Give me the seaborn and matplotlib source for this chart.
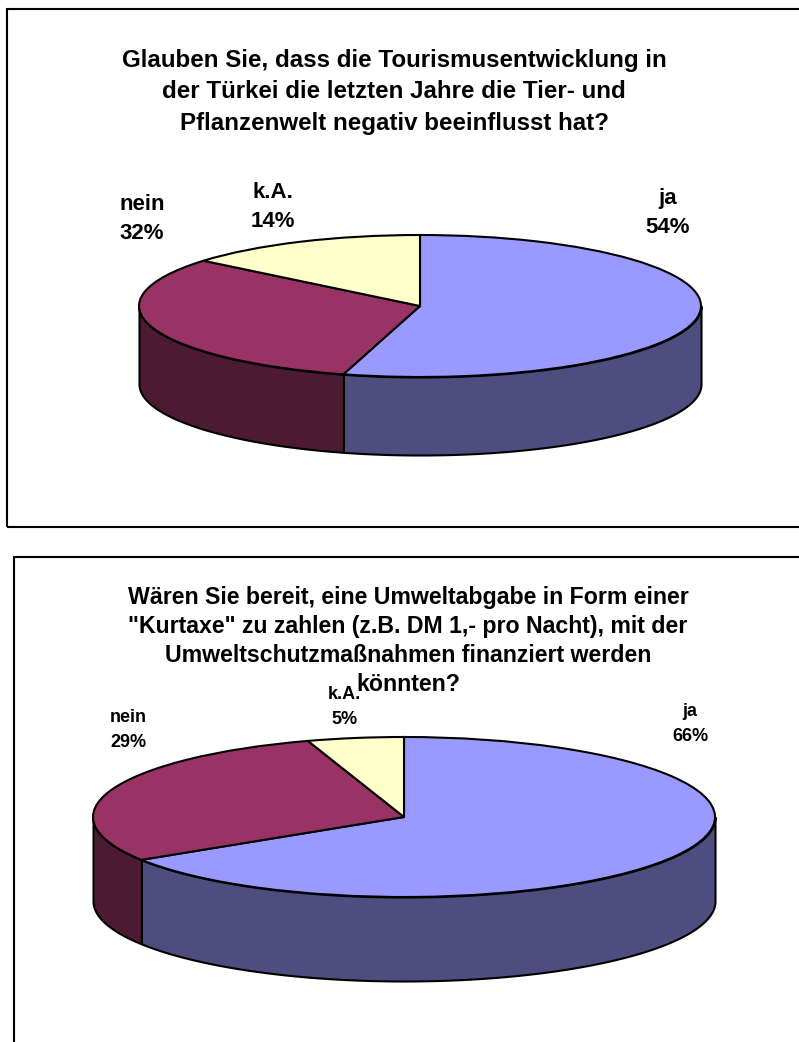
import numpy as np
import seaborn as sns
import matplotlib
matplotlib.use('Agg')
import matplotlib.pyplot as plt
from matplotlib.patches import Rectangle

# values
categories = ['ja', 'nein', 'k.A.']
values_top = [54.4, 31.6, 14.0]
values_bottom = [66.0, 29.0, 5.0]
title_top = 'Glauben Sie, dass die Tourismusentwicklung in\nder Türkei die letzten Jahre die Tier- und\nPflanzenwelt negativ beeinflusst hat?'
title_bottom = 'Wären Sie bereit, eine Umweltabgabe in Form einer\n"Kurtaxe" zu zahlen (z.B. DM 1,- pro Nacht), mit der\nUmweltschutzmaßnahmen finanziert werden\nkönnten?'

W, H = 799, 1042
sns.set_theme(style='white')
plt.rcParams['font.family'] = ['Liberation Sans', 'DejaVu Sans']

palette = sns.color_palette(['#9999FF', '#993366', '#FFFFCC'])
side_palette = sns.color_palette(['#4D4D80', '#4D1A33', '#808066'])

fig = plt.figure(figsize=(W / 100, H / 100), dpi=100, facecolor='white')


def box(x0, y0, x1, y1):
    fig.add_artist(Rectangle((x0 / W, 1 - y1 / H), (x1 - x0) / W, (y1 - y0) / H,
                             transform=fig.transFigure, fill=False, edgecolor='black', lw=1.5))


def pie3d(values, cx, cy, rx, ry, depth):
    # axes spans exactly the ellipse plus wall, data radius is 1
    ax = fig.add_axes([(cx - rx) / W, 1 - (cy + ry + depth) / H, 2 * rx / W, (2 * ry + depth) / H])
    d = depth / ry
    ax.pie(values, colors=palette, startangle=90, counterclock=False, radius=1,
           wedgeprops={'edgecolor': 'black', 'linewidth': 1.5})
    # side wall below the pie, one piece per slice
    edges = np.cumsum([0] + list(values)) / sum(values) * 2 * np.pi
    for i in range(len(values)):
        lo = max(edges[i], np.pi / 2)
        hi = min(edges[i + 1], 3 * np.pi / 2)
        if hi <= lo:
            continue
        t = np.linspace(lo, hi, 200)
        x, y = np.sin(t), np.cos(t)
        ax.fill_between(x, y - d, y, facecolor=side_palette[i], edgecolor='black', lw=1.5, zorder=0)
    ax.set_aspect('auto')
    ax.set_xlim(-1, 1)
    ax.set_ylim(-1 - d, 1)
    ax.axis('off')
    for a in ax.get_children():
        a.set_clip_on(False)


def label(i, values, x, y, size, spacing):
    fig.text(x / W, 1 - y / H, f'{categories[i]}\n{round(values[i])}%', ha='center', va='center',
             fontsize=size, fontweight='bold', color='black', linespacing=spacing)


box(7, 9, 805, 527)
box(14, 557, 805, 1050)

pie3d(values_top, 420, 306, 281, 71, 78)
pie3d(values_bottom, 404, 817, 311, 80, 84)

fig.text(394 / W, 1 - 92 / H, title_top, ha='center', va='center', fontsize=17.4,
         fontweight='bold', color='black', linespacing=1.47)
fig.text(408 / W, 1 - 641 / H, title_bottom, ha='center', va='center', fontsize=16.7,
         fontweight='bold', color='black', linespacing=1.35)

label(0, values_top, 668, 213, 16, 1.47)
label(1, values_top, 142, 219, 16, 1.47)
label(2, values_top, 273, 207, 16, 1.47)
label(0, values_bottom, 690, 724, 13, 1.56)
label(1, values_bottom, 128, 730, 13, 1.56)
label(2, values_bottom, 344, 707, 13, 1.56)

fig.savefig('out.png', dpi=100)
